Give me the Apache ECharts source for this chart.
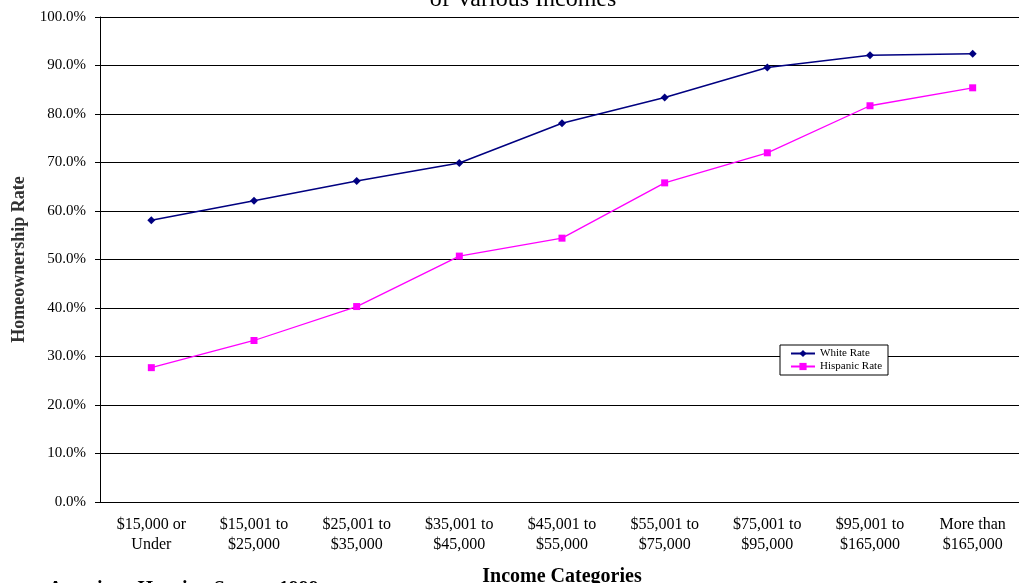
<!DOCTYPE html>
<html>
<head>
<meta charset="utf-8">
<script src="https://cdn.jsdelivr.net/npm/echarts@6/dist/echarts.min.js"></script>
<style>
  html, body { margin: 0; padding: 0; background: #fff; }
  #chart { width: 1019px; height: 583px; }
</style>
</head>
<body>
<div id="chart"></div>
<script>
// income brackets (x axis)
const categories = [
  "$15,000 or\nUnder",
  "$15,001 to\n$25,000",
  "$25,001 to\n$35,000",
  "$35,001 to\n$45,000",
  "$45,001 to\n$55,000",
  "$55,001 to\n$75,000",
  "$75,001 to\n$95,000",
  "$95,001 to\n$165,000",
  "More than\n$165,000"
];
// homeownership rate, percent
const whiteRate = [58.1, 62.1, 66.2, 69.9, 78.1, 83.4, 89.6, 92.1, 92.4];
const hispanicRate = [27.7, 33.3, 40.3, 50.7, 54.4, 65.8, 72.0, 81.7, 85.4];

const serif = "'Liberation Serif', 'Times New Roman', serif";

const chart = echarts.init(document.getElementById("chart"));
chart.setOption({
  backgroundColor: "#fff",
  animation: false,
  textStyle: { fontFamily: serif, color: "#000" },
  grid: { left: 100, right: -5, top: 17, bottom: 81, containLabel: false, outerBoundsMode: "none" },
  graphic: [
    {
      // title, first line is off the top of the picture
      type: "text", x: 523, y: 0,
      style: {
        text: "of Various Incomes", font: "24px " + serif, fill: "#000",
        align: "center", verticalAlign: "middle"
      }
    },
    {
      // source note, mostly below the bottom edge
      type: "text", x: -22, y: 590,
      style: {
        text: "Source: American Housing Survey 1999", font: "bold 20px " + serif, fill: "#000",
        align: "left", verticalAlign: "middle"
      }
    }
  ],
  legend: {
    left: 780, top: 345,
    orient: "vertical",
    backgroundColor: "#fff",
    borderColor: "#000",
    borderWidth: 1,
    padding: [3, 6, 3, 10],
    itemGap: 2,
    itemWidth: 24,
    itemHeight: 9,
    textStyle: { fontFamily: serif, fontSize: 11, color: "#000" },
    data: ["White Rate", "Hispanic Rate"]
  },
  xAxis: {
    type: "category",
    data: categories,
    boundaryGap: true,
    name: "Income Categories",
    nameLocation: "middle",
    nameGap: 65,
    nameTextStyle: { fontFamily: serif, fontSize: 20, fontWeight: "bold", color: "#000" },
    axisLine: { lineStyle: { color: "#000", width: 1 } },
    axisTick: { interval: 3, length: 5, lineStyle: { color: "#000" } },
    axisLabel: { interval: 0, margin: 13, fontSize: 16, lineHeight: 20, color: "#000", fontFamily: serif }
  },
  yAxis: {
    type: "value",
    min: 0, max: 100, interval: 10,
    name: "Homeownership Rate",
    nameLocation: "middle",
    nameGap: 72,
    nameRotate: 90,
    nameTextStyle: { fontFamily: serif, fontSize: 18, fontWeight: "bold", color: "#333" },
    axisLine: { show: true, lineStyle: { color: "#000", width: 1 } },
    axisTick: { show: true, length: 5, lineStyle: { color: "#000" } },
    axisLabel: {
      margin: 14, fontSize: 15, color: "#000", fontFamily: serif,
      formatter: (v) => v.toFixed(1) + "%"
    },
    splitLine: { show: true, lineStyle: { color: "#000", width: 1 } }
  },
  series: [
    {
      name: "White Rate",
      type: "line",
      data: whiteRate,
      symbol: "diamond",
      symbolSize: 8,
      color: "#000080",
      lineStyle: { color: "#000080", width: 1.5 },
      itemStyle: { color: "#000080" }
    },
    {
      name: "Hispanic Rate",
      type: "line",
      data: hispanicRate,
      symbol: "rect",
      symbolSize: 7,
      color: "#ff00ff",
      lineStyle: { color: "#ff00ff", width: 1.3 },
      itemStyle: { color: "#ff00ff" }
    }
  ]
});
</script>
</body>
</html>
